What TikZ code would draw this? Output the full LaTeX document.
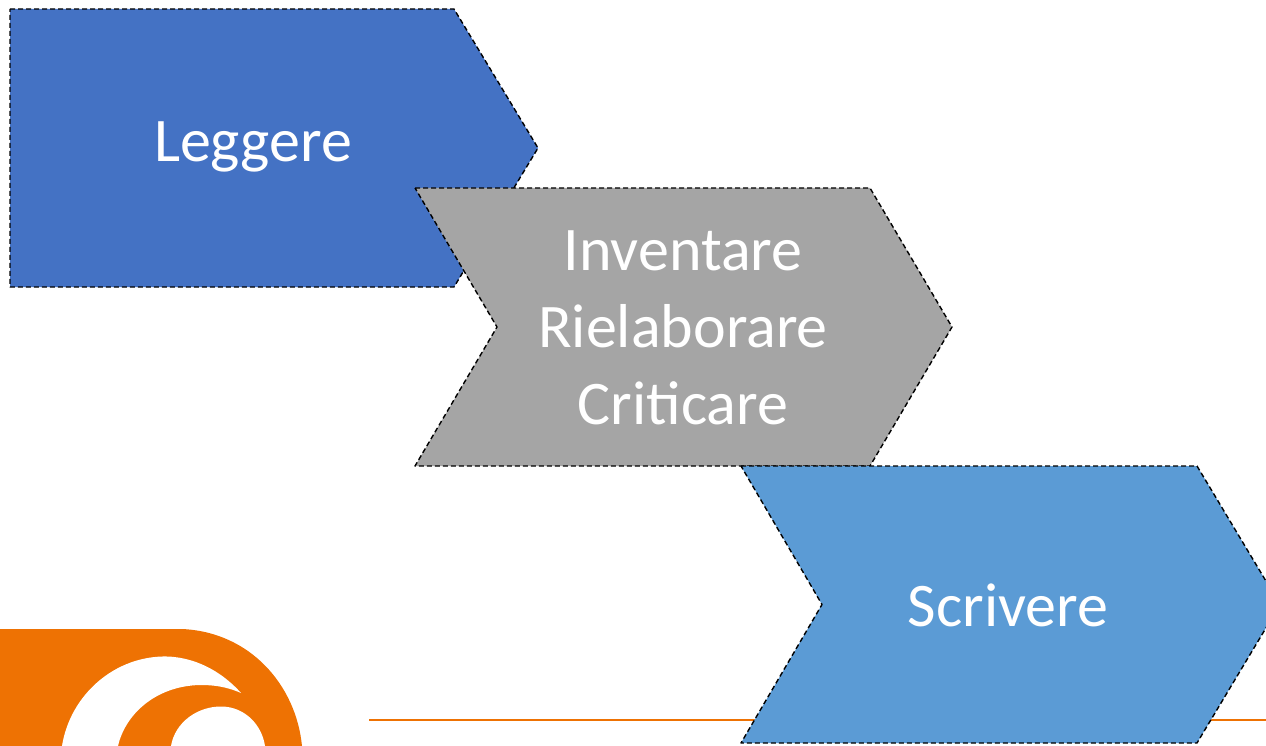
\documentclass[tikz,border=0pt]{standalone}
\usepackage{fontspec}
\setmainfont{Carlito}
\definecolor{blueA}{HTML}{4472C4}
\definecolor{greyA}{HTML}{A5A5A5}
\definecolor{blueB}{HTML}{5B9BD5}
\definecolor{orangeA}{HTML}{EE7203}
\tikzset{
  chevron/.style={draw=black,line width=1.4pt,dash pattern=on 5pt off 3pt,line join=round},
  label/.style={text=white,font=\fontsize{62}{77}\selectfont,align=center,inner sep=0pt}
}
\begin{document}
\begin{tikzpicture}[x=1pt,y=-1pt]
\useasboundingbox (0,0) rectangle (1266,746);
\clip (0,0) rectangle (1266,746);
% logo
\fill[orangeA] (0,629) -- (182,629) .. controls (250,632) and (296,685) .. (302,746) -- (0,746) -- cycle;
\fill[white] (62,746) .. controls (70,695) and (115,655) .. (168,656.5)
  .. controls (200,658) and (225,675) .. (241,693)
  .. controls (225,686) and (212,685) .. (200,685)
  .. controls (155,686) and (125,715) .. (118,746) -- cycle;
\fill[white] (171,746) .. controls (175,722) and (198,706) .. (222,706.5)
  .. controls (245,707) and (262,725) .. (265,746) -- cycle;
% rule
\coordinate (ruleL) at (369,720);
\coordinate (ruleR) at (1266,720);
\draw[orangeA,line width=2pt] (ruleL) -- (ruleR);
% chevrons
\fill[blueA,chevron] (10,9) -- (454,9) -- (538,148) -- (454,287) -- (10,287) -- cycle;
\node[label] (leggere) at (253,147) {Leggere};
\fill[greyA,chevron] (415,188) -- (870,188) -- (952,327) -- (870,466) -- (415,466) -- (497,327) -- cycle;
\node[label] (inventare) at (683,328) {Inventare\\Rielaborare\\Criticare};
\fill[blueB,chevron] (741,466) -- (1197,466) -- (1280,604.5) -- (1197,743) -- (741,743) -- (822,604.5) -- cycle;
\node[label] (scrivere) at (1008,605) {Scrivere};
\end{tikzpicture}
\end{document}
